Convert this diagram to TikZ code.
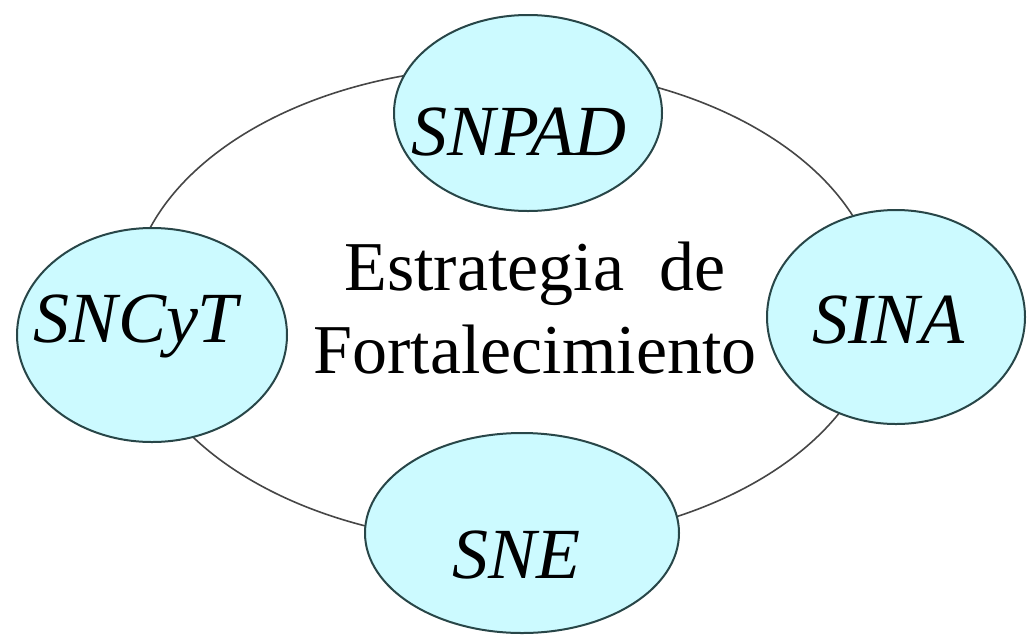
\documentclass[tikz,border=0pt]{standalone}
\usepackage{fontspec}
\setmainfont{Liberation Serif}
\definecolor{bubblefill}{RGB}{204,250,255}
\definecolor{bubbleline}{RGB}{40,70,72}
\definecolor{ringline}{RGB}{70,70,70}
\begin{document}
\begin{tikzpicture}[x=1pt,y=-1pt,
  bubble/.style={draw=bubbleline,fill=bubblefill,line width=2pt},
  ring/.style={draw=ringline,line width=1.6pt},
  label/.style={font=\fontsize{72}{80}\selectfont\itshape,inner sep=0pt,anchor=base},
  maintext/.style={font=\fontsize{70}{83}\selectfont,align=center,inner sep=0pt}]
\useasboundingbox (0,0) rectangle (1027,635);
\fill[white] (0,0) rectangle (1027,635);
% outer ring
\draw[ring] (505,305) ellipse [x radius=375, y radius=238];
% bubbles
\draw[bubble] (528,113) ellipse [x radius=134, y radius=98];
\draw[bubble] (152,335) ellipse [x radius=135, y radius=107];
\draw[bubble] (896,317) ellipse [x radius=129, y radius=107];
\draw[bubble] (522,533) ellipse [x radius=157, y radius=100];
% labels
\node[label] (snpad) at (519,155) {SNPAD};
\node[label] (sncyt) at (136,342) {SNCyT};
\node[label] (sina) at (888,343) {SINA};
\node[label] (sne) at (516,578) {SNE};
\node[maintext] (centre) at (535,308) {Estrategia\ \ de\\Fortalecimiento};
\end{tikzpicture}
\end{document}
